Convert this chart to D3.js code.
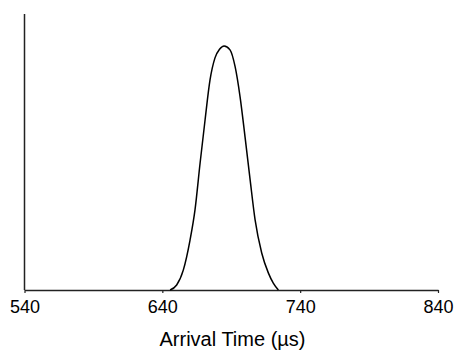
<!DOCTYPE html>
<html>
<head>
<meta charset="utf-8">
<script src="https://cdn.jsdelivr.net/npm/d3@7"></script>
<style>
  body { margin: 0; background: #fff; }
  text { font-family: "Liberation Sans", Arial, sans-serif; fill: #000; }
</style>
</head>
<body>
<div id="chart"></div>
<script>
// arrival time (us) and relative signal
var times = [645.6, 650.4, 655.2, 660.1, 663.7, 667.4, 671.0, 674.6, 678.2, 681.5, 684.8, 689.1, 692.8, 696.4, 700.0, 703.7, 707.3, 712.1, 716.9, 720.5, 724.2];
var signal = [0, 0.018, 0.072, 0.181, 0.290, 0.460, 0.616, 0.761, 0.841, 0.872, 0.884, 0.870, 0.809, 0.700, 0.555, 0.399, 0.254, 0.134, 0.062, 0.025, 0];
var tickValues = [540, 640, 740, 840];

var w = 456;
var h = 350;

var x = d3.scaleLinear()
  .domain([540, 840])
  .range([24.5, 438]);

var y = d3.scaleLinear()
  .domain([0, 1])
  .range([290, 14]);

var svg = d3.select("#chart")
  .append("svg")
  .attr("width", w)
  .attr("height", h);

var data = times.map(function(t, i) { return [t, signal[i]]; });

// x axis
var xAxis = d3.axisBottom(x)
  .tickValues(tickValues)
  .tickSize(3)
  .tickSizeOuter(0)
  .tickFormat(d3.format("d"));

var gx = svg.append("g")
  .attr("transform", "translate(0," + y(0) + ")")
  .call(xAxis);
gx.select(".domain").attr("stroke", "#222").attr("stroke-width", 1.5);
gx.selectAll(".tick line").attr("stroke", "#222").attr("stroke-width", 1.2);
gx.selectAll(".tick text")
  .attr("y", 22.5)
  .attr("dy", 0)
  .style("font-size", "18px")
  .style("font-family", "'Liberation Sans', Arial, sans-serif")
  .attr("fill", "#000");

// y axis, no ticks
svg.append("line")
  .attr("x1", x(540)).attr("x2", x(540))
  .attr("y1", y(1)).attr("y2", y(0))
  .attr("stroke", "#222")
  .attr("stroke-width", 1.5);

// curve
var line = d3.line()
  .x(function(d) { return x(d[0]); })
  .y(function(d) { return y(d[1]); })
  .curve(d3.curveMonotoneX);

svg.append("path")
  .datum(data)
  .attr("fill", "none")
  .attr("stroke", "#000")
  .attr("stroke-width", 1.5)
  .attr("d", line);

svg.append("text")
  .attr("x", (157 + 308) / 2)
  .attr("y", 346)
  .attr("text-anchor", "middle")
  .style("font-size", "20px")
  .text("Arrival Time (\u00b5s)");
</script>
</body>
</html>
